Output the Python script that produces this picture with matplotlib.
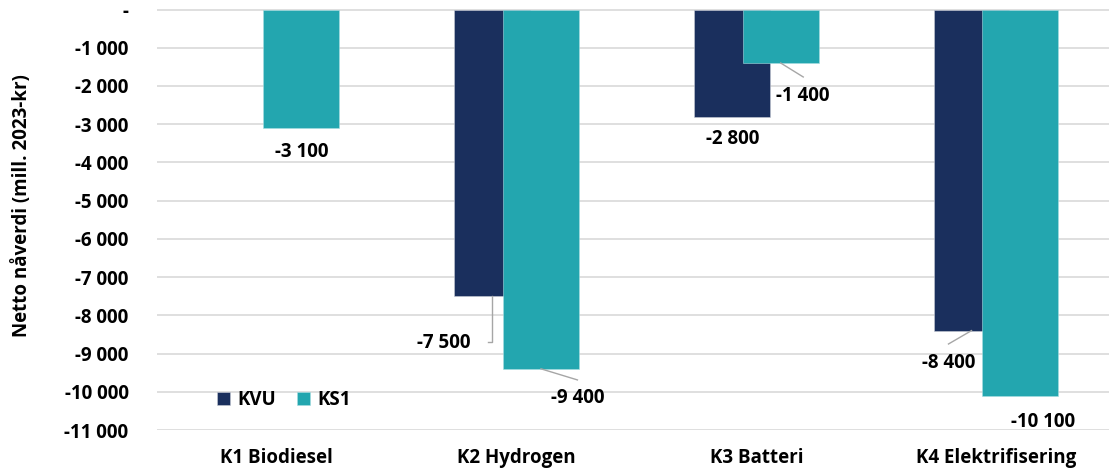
import matplotlib.pyplot as plt
import numpy as np

plt.rcParams['font.family'] = ['Open Sans', 'DejaVu Sans']
plt.rcParams['font.weight'] = 'bold'

categories = ['K1 Biodiesel', 'K2 Hydrogen', 'K3 Batteri', 'K4 Elektrifisering']
kvu = [np.nan, -7500, -2800, -8400]
ks1 = [-3100, -9400, -1400, -10100]
y_ticks = list(range(0, -11001, -1000))

NAVY = '#1a2f5d'
TEAL = '#23a6af'
GRID = '#d9d9d9'
LEADER = '#a6a6a6'
FS = 13.5


def fmt(v):
    if v == 0:
        return '-'
    return '{:,.0f}'.format(v).replace(',', ' ')


fig = plt.figure(figsize=(11.09, 4.73), dpi=100)
W, H = 1109, 473
# plottområdet går litt ut over høyre kant
left, right, top, bottom = 157, 1109, 9.5, 430
ax = fig.add_axes([left / W, 1 - bottom / H, (right - left) / W, (bottom - top) / H])

x = np.arange(len(categories))
width = 0.317
shift = 0.102
b1 = ax.bar(x - shift, kvu, width, color=NAVY, label='KVU', zorder=2,
            edgecolor='#c8ccd6', linewidth=0.4)
b2 = ax.bar(x + shift, ks1, width, color=TEAL, label='KS1', zorder=3,
            edgecolor='#a8dde1', linewidth=0.4)

ax.set_xlim(-0.5, -0.5 + (right - left) / 239.7)
ax.set_ylim(-11000, 0)
ax.set_yticks(y_ticks)
ax.set_yticklabels([fmt(v) for v in y_ticks])
ax.set_xticks(x)
ax.set_xticklabels(categories)
ax.tick_params(axis='both', length=0, labelsize=FS, colors='black')
ax.tick_params(axis='y', pad=20.5)
ax.tick_params(axis='x', pad=13)
ax.grid(axis='y', color=GRID, linewidth=1.2, zorder=0)
ax.set_axisbelow(True)
for s in ax.spines.values():
    s.set_visible(False)

fig.text(22 / W, 1 - 206 / H, 'Netto nåverdi (mill. 2023-kr)', rotation=90,
         ha='center', va='center', fontsize=FS, fontweight='bold')

# etiketter: (serie, kategori, dx, dy, lederlinje, slutt-dy for leder)
label_pos = [
    (ks1, 0, +shift, -630, None, 0),
    (kvu, 1, -0.305, -1225, 'elbow', 0),
    (ks1, 1, +0.254, -760, 'line', 470),
    (kvu, 2, -0.100, -590, None, 0),
    (ks1, 2, +0.196, -860, 'line', 495),
    (kvu, 3, -0.198, -835, 'line', 485),
    (ks1, 3, +0.198, -690, None, 0),
]
for series, i, dx, dy, leader, ldy in label_pos:
    v = series[i]
    off = -shift if series is kvu else shift
    tx, ty = i + dx, v + dy
    ax.text(tx, ty, fmt(v), ha='center', va='center', fontsize=FS,
            fontweight='bold', zorder=5)
    if leader == 'elbow':
        bx = i + off
        ax.plot([bx, bx, bx - 0.018], [v, ty + 40, ty + 40], color=LEADER,
                lw=1.0, zorder=4)
    elif leader == 'line':
        ax.plot([i + off, tx], [v, ty + ldy], color=LEADER, lw=1.0, zorder=4)

leg = ax.legend(handles=[b1, b2], loc='lower left',
                bbox_to_anchor=(204 / W, 1 - 423 / H), bbox_transform=fig.transFigure,
                ncol=2, frameon=False, fontsize=FS, handlelength=0.7,
                handleheight=0.7, handletextpad=0.4, columnspacing=1.1,
                borderpad=0.2)

fig.savefig('out.png', dpi=100)
